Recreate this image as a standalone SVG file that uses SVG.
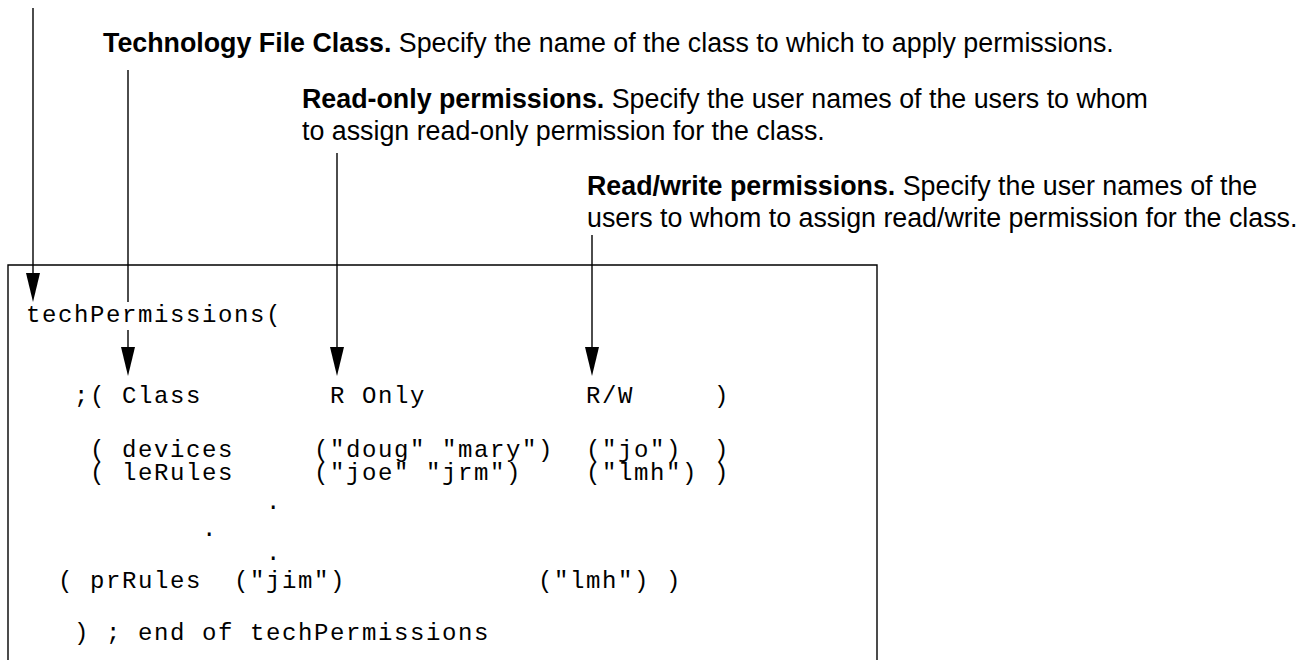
<svg xmlns="http://www.w3.org/2000/svg" width="1301" height="660" viewBox="0 0 1301 660">
  <style>
    .lbl { font-family: "Liberation Sans", Arial, sans-serif; font-size: 26.8px; fill: #000; }
    .b { font-weight: bold; }
    .code { font-family: "Liberation Mono", "Courier New", monospace; font-size: 24px; letter-spacing: 1.6px; fill: #000; white-space: pre; }
    .ln { stroke: #000; stroke-width: 1.4; fill: none; }
    .head { fill: #000; stroke: none; }
  </style>
  <rect width="1301" height="660" fill="#fff"/>

  <!-- callout labels -->
  <g id="label-class">
    <text class="lbl" x="103" y="52"><tspan class="b">Technology File Class.</tspan> Specify the name of the class to which to apply permissions.</text>
  </g>
  <g id="label-readonly">
    <text class="lbl" x="302" y="108"><tspan class="b">Read-only permissions.</tspan> Specify the user names of the users to whom</text>
    <text class="lbl" x="302" y="140">to assign read-only permission for the class.</text>
  </g>
  <g id="label-readwrite">
    <text class="lbl" x="587" y="195"><tspan class="b">Read/write permissions.</tspan> Specify the user names of the</text>
    <text class="lbl" x="587" y="227">users to whom to assign read/write permission for the class.</text>
  </g>

  <!-- code listing frame (open at the bottom) -->
  <g id="listing">
    <path class="ln" d="M8,660 V265 H877 V660"/>
    <text class="code" x="26" y="322">techPermissions(</text>
    <text class="code" x="74" y="403">;( Class        R Only          R/W     )</text>
    <text class="code" x="90" y="457">( devices     ("doug" "mary")  ("jo")  )</text>
    <text class="code" x="90" y="480">( leRules     ("joe" "jrm")    ("lmh") )</text>
    <text class="code" x="266" y="509">.</text>
    <text class="code" x="202" y="536">.</text>
    <text class="code" x="266" y="560">.</text>
    <text class="code" x="58" y="588">( prRules  ("jim")            ("lmh") )</text>
    <text class="code" x="74" y="640">) ; end of techPermissions</text>
  </g>

  <!-- pointers from labels into the listing -->
  <g id="connectors">
    <line class="ln" x1="33" y1="8" x2="33" y2="280"/>
    <polygon class="head" points="26,273 40,273 33,302"/>

    <line class="ln" x1="128" y1="70" x2="128" y2="302"/>
    <line class="ln" x1="128" y1="330" x2="128" y2="352"/>
    <polygon class="head" points="121,347 135,347 128,376"/>

    <line class="ln" x1="337" y1="153" x2="337" y2="352"/>
    <polygon class="head" points="330,347 344,347 337,376"/>

    <line class="ln" x1="592" y1="235" x2="592" y2="352"/>
    <polygon class="head" points="585,347 599,347 592,376"/>
  </g>
</svg>
